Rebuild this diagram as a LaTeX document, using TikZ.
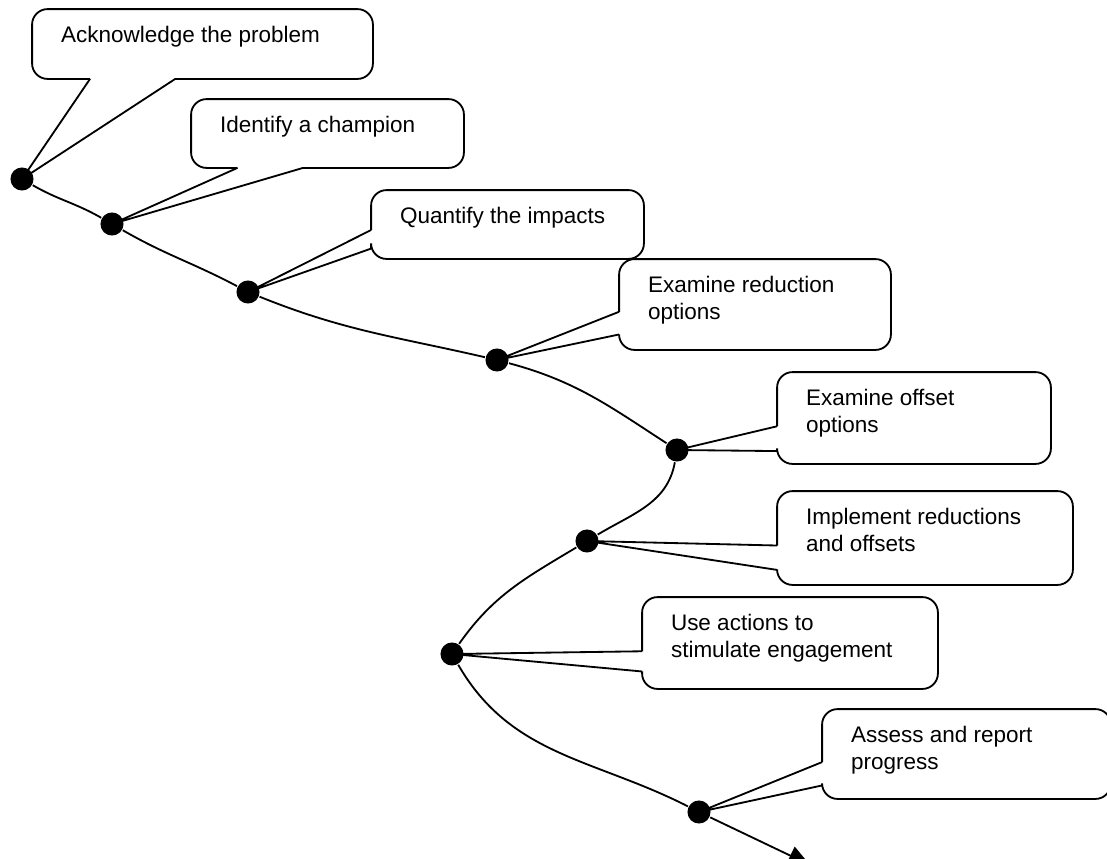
\documentclass[tikz,border=0pt]{standalone}
\usepackage{fontspec}
\setmainfont{Liberation Sans}
\usetikzlibrary{positioning,arrows.meta,fit,calc}

\begin{document}
\begin{tikzpicture}[
  x=0.025cm, y=-0.025cm,
  line width=1.3pt,
  frame/.style={inner sep=0pt,draw=none},
  outline/.style={rounded corners=11pt},
  lbl/.style={anchor=north west,inner sep=0pt,align=left,font=\fontsize{16}{19.2}\selectfont},
  dot/.style={circle,fill=black,inner sep=0pt,minimum size=16.4pt},
  >={Triangle[length=15.5pt,width=14pt]}
]
\useasboundingbox (0,0) rectangle (1107,858);
% --- milestones on the path ---
\node[dot] (d1) at (22,179) {};
\node[dot] (d2) at (112,224) {};
\node[dot] (d3) at (248,292) {};
\node[dot] (d4) at (497,360) {};
\node[dot] (d5) at (677,450) {};
\node[dot] (d6) at (587,541) {};
\node[dot] (d7) at (452,654) {};
\node[dot] (d8) at (699,812) {};
\coordinate (tip) at (810,865);
\draw (d1) to[out=-30,in=150] (d2) to[out=-30,in=152] (d3) to[out=-22,in=167] (d4)
  to[out=-15,in=147] (d5) to[out=-100,in=31] (d6) to[out=-149,in=55] (d7)
  to[out=-60,in=153] (d8);
\draw[->] (d8) -- (tip);
% --- callout frames ---
\node[frame,fit={(33,10) (372,78)}] (b1) {};
\node[frame,fit={(192,100) (463,167)}] (b2) {};
\node[frame,fit={(372,191) (643,258)}] (b3) {};
\node[frame,fit={(620,260) (890,349)}] (b4) {};
\node[frame,fit={(778,373) (1050,463)}] (b5) {};
\node[frame,fit={(778,492) (1072,584)}] (b6) {};
\node[frame,fit={(643,598) (937,688)}] (b7) {};
\node[frame,fit={(823,710) (1110,798)}] (b8) {};
% pointers from below
\foreach \b/\d/\p/\q in {b1/d1/0.17/0.42,b2/d2/0.17/0.41}{
  \coordinate (\b a) at ($(\b.south west)!\p!(\b.south east)$);
  \coordinate (\b b) at ($(\b.south west)!\q!(\b.south east)$);
  \draw[outline] (\b b) -| (\b.north east) -| (\b.south west) -- (\b a);
  \draw (\b a) -- (\d.center) -- (\b b);
}
% pointers from the left
\foreach \b/\d/\p/\q in {b3/d3/0.58/0.85,b4/d4/0.58/0.83,b5/d5/0.59/0.86,
  b6/d6/0.58/0.84,b7/d7/0.59/0.81,b8/d8/0.59/0.85}{
  \coordinate (\b a) at ($(\b.north west)!\p!(\b.south west)$);
  \coordinate (\b b) at ($(\b.north west)!\q!(\b.south west)$);
  \draw[outline] (\b a) |- (\b.north east) |- (\b.south west) -- (\b b);
  \draw (\b a) -- (\d.center) -- (\b b);
}
% --- texts ---
\node[lbl] (t1) at ([shift={(28,14)}]b1.north west) {\strut Acknowledge the problem};
\node[lbl] (t2) at ([shift={(28,14)}]b2.north west) {\strut Identify a champion};
\node[lbl] (t3) at ([shift={(28,14)}]b3.north west) {\strut Quantify the impacts};
\node[lbl] (t4) at ([shift={(28,14)}]b4.north west) {\strut Examine reduction\\options};
\node[lbl] (t5) at ([shift={(28,14)}]b5.north west) {\strut Examine offset\\options};
\node[lbl] (t6) at ([shift={(28,14)}]b6.north west) {\strut Implement reductions\\and offsets};
\node[lbl] (t7) at ([shift={(28,14)}]b7.north west) {\strut Use actions to\\stimulate engagement};
\node[lbl] (t8) at ([shift={(28,14)}]b8.north west) {\strut Assess and report\\progress};
\end{tikzpicture}
\end{document}
